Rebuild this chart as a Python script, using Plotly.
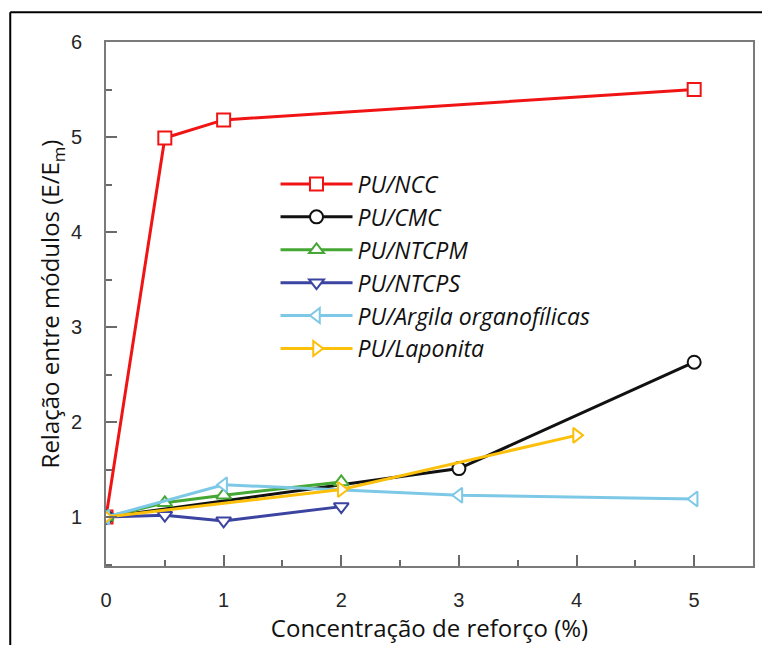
import plotly.graph_objects as go

# Reinforcement concentration (%) and modulus ratio E/Em for each composite
ncc_x = [0, 0.5, 1, 5]
ncc_y = [1.0, 4.99, 5.18, 5.5]

cmc_x = [0, 3, 5]
cmc_y = [1.0, 1.51, 2.63]

ntcpm_x = [0, 0.5, 1, 2]
ntcpm_y = [1.0, 1.15, 1.23, 1.37]

ntcps_x = [0, 0.5, 1, 2]
ntcps_y = [1.0, 1.02, 0.96, 1.11]

argila_x = [0, 1, 3, 5]
argila_y = [1.0, 1.34, 1.23, 1.19]

laponita_x = [0, 2, 4]
laponita_y = [1.0, 1.29, 1.86]

x_ticks = [0, 1, 2, 3, 4, 5]
y_ticks = [1, 2, 3, 4, 5, 6]

series = [
    ("PU/NCC", ncc_x, ncc_y, "#f01414", "square"),
    ("PU/CMC", cmc_x, cmc_y, "#111111", "circle"),
    ("PU/NTCPM", ntcpm_x, ntcpm_y, "#45a834", "triangle-up"),
    ("PU/NTCPS", ntcps_x, ntcps_y, "#3b44a0", "triangle-down"),
    ("PU/Argila organofílicas", argila_x, argila_y, "#7cc8e6", "triangle-left"),
    ("PU/Laponita", laponita_x, laponita_y, "#fcbf0a", "triangle-right"),
]

fig = go.Figure()
for i, (name, xs, ys, color, symbol) in enumerate(series):
    fig.add_trace(go.Scatter(
        x=xs, y=ys, name=name, mode="lines+markers",
        legendgroup=f"g{i}",
        line=dict(color=color, width=3),
        marker=dict(symbol=symbol, size=13,
                    color="white", line=dict(color=color, width=2)),
    ))

tick_font = dict(family="Liberation Sans", size=20, color="#262626")

axis_common = dict(
    showline=True, linecolor="#7a7a7a", linewidth=2, mirror=True,
    showgrid=False, zeroline=False,
    ticks="inside", ticklen=11, tickwidth=2, tickcolor="#6a6a6a",
    minor=dict(ticks="inside", ticklen=6, tickwidth=2, tickcolor="#6a6a6a", dtick=0.5),
)

fig.update_xaxes(
    range=[0, 5.5], tickmode="array", tickvals=x_ticks,
    ticktext=[str(v) for v in x_ticks], tickfont=tick_font,
    ticklabelstandoff=15,
    title=dict(text="Concentração de reforço (%)",
               font=dict(family="Open Sans", size=24, color="#111111"), standoff=2),
    **axis_common,
)
fig.update_yaxes(
    range=[0.485, 6], tickmode="array", tickvals=y_ticks,
    ticktext=[str(v) for v in y_ticks], tickfont=tick_font,
    ticklabelstandoff=18,
    title=dict(text="Relação entre módulos (E/E<sub>m</sub>)",
               font=dict(family="Open Sans", size=24, color="#111111"), standoff=4),
    **axis_common,
)

# Outer frame lines along the left and top of the figure
fig.add_shape(type="line", xref="paper", yref="paper",
              x0=-0.148, x1=-0.148, y0=1.057, y1=-0.2,
              line=dict(color="black", width=2))
fig.add_shape(type="line", xref="paper", yref="paper",
              x0=-0.148, x1=1.02, y0=1.057, y1=1.057,
              line=dict(color="black", width=2))

fig.update_layout(
    width=762, height=645,
    margin=dict(l=106, r=7, t=42, b=79),
    paper_bgcolor="white", plot_bgcolor="white",
    legend=dict(
        x=0.262, y=0.77, xanchor="left", yanchor="top",
        bgcolor="rgba(0,0,0,0)", traceorder="grouped", tracegroupgap=0,
        font=dict(family="Open Sans", size=23, color="#111111", style="italic"),
        itemwidth=72,
    ),
    showlegend=True,
)

fig.write_html("out.html")
